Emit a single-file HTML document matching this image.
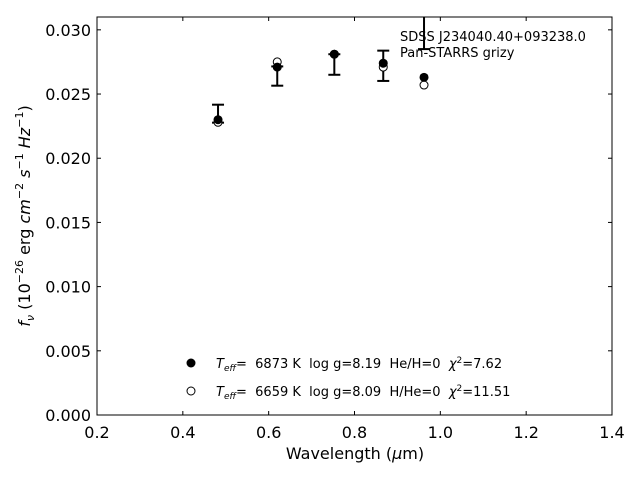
<!DOCTYPE html>
<html><head><meta charset="utf-8"><style>body{margin:0;background:#fff}svg{display:block;font-family:"DejaVu Sans","Liberation Sans",sans-serif}text{white-space:pre}</style></head>
<body>
<svg id="c" width="640" height="480"></svg>
<script>
const bands=['g','r','i','z','y'];
const wave=[0.482,0.620,0.753,0.867,0.962];
const modelFilled=[0.0230,0.0271,0.0281,0.0274,0.0263];
const modelOpen=[0.0228,0.0275,0.0281,0.0271,0.0257];
const obsFlux=[0.02347,0.0264,0.0273,0.0272,0.0305];
const obsErr=[0.0007,0.00075,0.0008,0.00118,0.0020];
const xTicks=[0.2,0.4,0.6,0.8,1.0,1.2,1.4];
const xTickLabels=['0.2','0.4','0.6','0.8','1.0','1.2','1.4'];
const yTicks=[0,0.005,0.010,0.015,0.020,0.025,0.030];
const yTickLabels=['0.000','0.005','0.010','0.015','0.020','0.025','0.030'];
const L=97,R=612,T=17,B=415,X0=0.2,X1=1.4,Y0=0,Y1=0.031;
const X=v=>L+(v-X0)/(X1-X0)*(R-L);
const Y=v=>B-(v-Y0)/(Y1-Y0)*(B-T);
const NS='http://www.w3.org/2000/svg',svg=document.getElementById('c');
function mk(t,a,p){const e=document.createElementNS(NS,t);for(const k in a)e.setAttribute(k,a[k]);(p||svg).appendChild(e);return e;}
const defs=mk('defs',{});const cp=mk('clipPath',{id:'cl'},defs);mk('rect',{x:L,y:T,width:R-L,height:B-T},cp);
const plot=mk('g',{'clip-path':'url(#cl)'});


for(let i=0;i<wave.length;i++){
 const x=X(wave[i]),y1=Y(obsFlux[i]+obsErr[i]),y2=Y(obsFlux[i]-obsErr[i]);
 const g=mk('g',{stroke:'#000','stroke-width':2},plot);
 
 
 mk('line',{x1:x,x2:x,y1:y1,y2:y2},g);
 mk('line',{x1:x-6,x2:x+6,y1:y1,y2:y1},g);
 mk('line',{x1:x-6,x2:x+6,y1:y2,y2:y2},g);
}
for(let i=0;i<wave.length;i++){
 const o=mk('circle',{cx:X(wave[i]),cy:Y(modelOpen[i]),r:4,fill:'#fff',stroke:'#000','stroke-width':1},plot);
 
 
 const f=mk('circle',{cx:X(wave[i]),cy:Y(modelFilled[i]),r:4.5,fill:'#000'},plot);
 
 
}
const fr=mk('rect',{x:L,y:T,width:R-L,height:B-T,fill:'none',stroke:'#000','stroke-width':1});


xTicks.forEach((v,i)=>{const x=X(v);
 mk('line',{x1:x,x2:x,y1:B,y2:B-4,stroke:'#000'});mk('line',{x1:x,x2:x,y1:T,y2:T+4,stroke:'#000'});
 const t=mk('text',{x:x,y:B+23,'text-anchor':'middle','font-size':16});t.textContent=xTickLabels[i];
 
 });
yTicks.forEach((v,i)=>{const y=Y(v);
 mk('line',{x1:L,x2:L+4,y1:y,y2:y,stroke:'#000'});mk('line',{x1:R,x2:R-4,y1:y,y2:y,stroke:'#000'});
 const t=mk('text',{x:L-6,y:y+6,'text-anchor':'end','font-size':16});t.textContent=yTickLabels[i];
 
 });
</script>
<svg width="640" height="480" style="position:absolute;left:0;top:0">
<text x="355" y="459" text-anchor="middle" font-size="16">Wavelength (<tspan font-style="italic">μ</tspan>m)</text>
<text transform="translate(30,216) rotate(-90)" text-anchor="middle" font-size="16"><tspan font-style="italic">f<tspan font-size="11" dy="4">ν</tspan></tspan><tspan dy="-4"> (10</tspan><tspan font-size="11" dy="-7">−26</tspan><tspan dy="7"> erg </tspan><tspan font-style="italic">cm</tspan><tspan font-size="11" dy="-7">−2</tspan><tspan dy="7" font-style="italic"> s</tspan><tspan font-size="11" dy="-7">−1</tspan><tspan dy="7" font-style="italic"> Hz</tspan><tspan font-size="11" dy="-7">−1</tspan><tspan dy="7">)</tspan></text>
<text x="400" y="41" font-size="13">SDSS J234040.40+093238.0</text>
<text x="400" y="57" font-size="13">Pan-STARRS grizy</text>
<g font-size="13">
<circle cx="191" cy="363" r="4.5" fill="#000"/>
<text x="216" y="368"><tspan font-style="italic">T<tspan font-size="9" dy="3">eff</tspan></tspan><tspan dy="-3">=  6873 K  log g=8.19  He/H=0  </tspan><tspan font-style="italic">χ</tspan><tspan font-size="9" dy="-5">2</tspan><tspan dy="5">=7.62</tspan></text>
<circle cx="191" cy="391" r="4" fill="#fff" stroke="#000"/>
<text x="216" y="396"><tspan font-style="italic">T<tspan font-size="9" dy="3">eff</tspan></tspan><tspan dy="-3">=  6659 K  log g=8.09  H/He=0  </tspan><tspan font-style="italic">χ</tspan><tspan font-size="9" dy="-5">2</tspan><tspan dy="5">=11.51</tspan></text>
</g>
</svg>
</body></html>
